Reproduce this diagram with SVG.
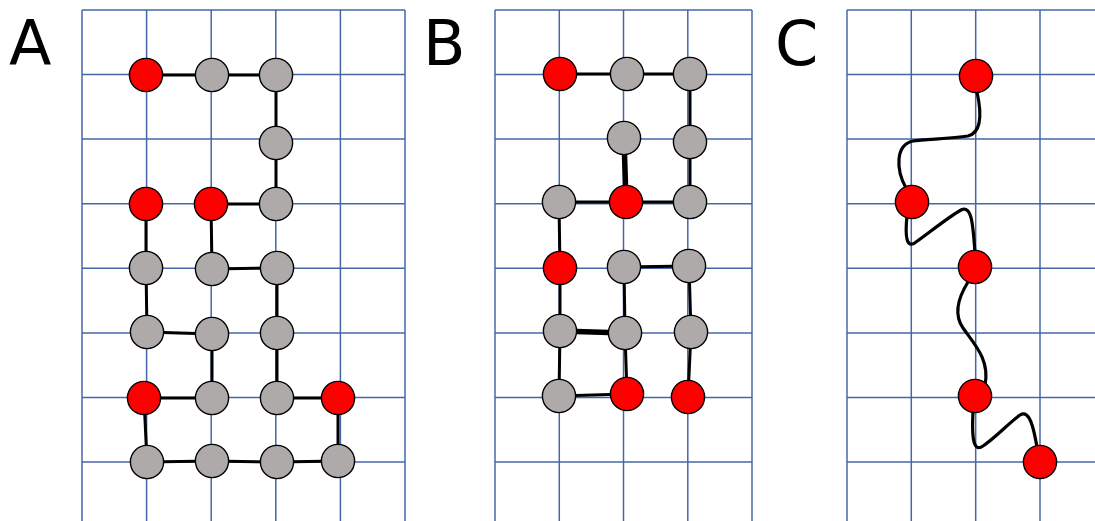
<svg xmlns="http://www.w3.org/2000/svg" width="1095" height="521" viewBox="0 0 1095 521">
<style>
.grid line{stroke:#4666AA;stroke-width:1.5}
.lbl{font-family:"DejaVu Sans",sans-serif;font-size:62px;fill:#000}
.e{stroke:#000;stroke-width:3;fill:none;stroke-linecap:round}
.t{stroke-width:5.5}
.w{stroke:#000;stroke-width:3.2;fill:none;stroke-linecap:round}
.r{fill:#FF0000;stroke:#000;stroke-width:1.4}
.g{fill:#AEAAAA;stroke:#000;stroke-width:1.4}
circle{r:16.6px}
</style>
<rect width="1095" height="521" fill="#fff"/>
<g id="grid-A" class="grid">
<line x1="82" y1="10" x2="82" y2="521"/><line x1="146.6" y1="10" x2="146.6" y2="521"/><line x1="211.2" y1="10" x2="211.2" y2="521"/><line x1="275.8" y1="10" x2="275.8" y2="521"/><line x1="340.4" y1="10" x2="340.4" y2="521"/><line x1="405" y1="10" x2="405" y2="521"/>
<line x1="82" y1="10" x2="405" y2="10"/><line x1="82" y1="74.6" x2="405" y2="74.6"/><line x1="82" y1="139.1" x2="405" y2="139.1"/><line x1="82" y1="203.7" x2="405" y2="203.7"/><line x1="82" y1="268.3" x2="405" y2="268.3"/><line x1="82" y1="332.9" x2="405" y2="332.9"/><line x1="82" y1="397.4" x2="405" y2="397.4"/><line x1="82" y1="462" x2="405" y2="462"/>
</g>
<g id="grid-B" class="grid">
<line x1="495" y1="10" x2="495" y2="521"/><line x1="559.3" y1="10" x2="559.3" y2="521"/><line x1="623.5" y1="10" x2="623.5" y2="521"/><line x1="687.8" y1="10" x2="687.8" y2="521"/><line x1="752" y1="10" x2="752" y2="521"/>
<line x1="495" y1="10" x2="752" y2="10"/><line x1="495" y1="74.6" x2="752" y2="74.6"/><line x1="495" y1="139.1" x2="752" y2="139.1"/><line x1="495" y1="203.7" x2="752" y2="203.7"/><line x1="495" y1="268.3" x2="752" y2="268.3"/><line x1="495" y1="332.9" x2="752" y2="332.9"/><line x1="495" y1="397.4" x2="752" y2="397.4"/><line x1="495" y1="462" x2="752" y2="462"/>
</g>
<g id="grid-C" class="grid">
<line x1="847" y1="10" x2="847" y2="521"/><line x1="911.3" y1="10" x2="911.3" y2="521"/><line x1="975.7" y1="10" x2="975.7" y2="521"/><line x1="1040" y1="10" x2="1040" y2="521"/>
<line x1="847" y1="10" x2="1095" y2="10"/><line x1="847" y1="74.6" x2="1095" y2="74.6"/><line x1="847" y1="139.1" x2="1095" y2="139.1"/><line x1="847" y1="203.7" x2="1095" y2="203.7"/><line x1="847" y1="268.3" x2="1095" y2="268.3"/><line x1="847" y1="332.9" x2="1095" y2="332.9"/><line x1="847" y1="397.4" x2="1095" y2="397.4"/><line x1="847" y1="462" x2="1095" y2="462"/>
</g>
<g id="labels">
<text class="lbl" x="9" y="65">A</text>
<text class="lbl" x="423" y="65">B</text>
<text class="lbl" x="775" y="65">C</text>
</g>
<g id="connectors">
<polyline class="e" points="146,75 212,75 276,75 276,143 276,204 211,204 212,269 277,268 277,333 277,398 338,398 338,461 277,462 212,461 147,462 144,398 212,398 212,334 147,332 146,268 146,204"/>
<polyline class="e" points="560,74 627,74 690,74 690,142 690,202 626,202"/>
<line class="e t" x1="626" y1="202" x2="624" y2="138"/>
<polyline class="e" points="626,202 559,202 560,268 560,331 559,396 627,394"/>
<line class="e t" x1="560" y1="331" x2="625" y2="333"/>
<polyline class="e" points="627,394 625,333 624,267 689,266 691,332 688,397"/>
<path class="w" d="M977,92 C981,110 983,132 968,136 C950,139 925,139 913,141 C895,145 896,170 906,188"/>
<path class="w" d="M907,216 C905,235 906,250 916,242 C930,232 950,216 961,210 C972,205 973,225 975,253"/>
<path class="w" d="M968,282 C958,298 954,315 963,328 C975,345 990,360 985,385"/>
<path class="w" d="M973,412 C972,432 972,454 983,446 C995,438 1008,424 1020,415 C1030,409 1034,430 1037,447"/>
</g>
<g id="A1"><circle class="r" cx="146" cy="75" r="16.6"/></g>
<g id="A2"><circle class="g" cx="212" cy="75" r="16.6"/></g>
<g id="A3"><circle class="g" cx="276" cy="75" r="16.6"/></g>
<g id="A4"><circle class="g" cx="276" cy="143" r="16.6"/></g>
<g id="A5"><circle class="g" cx="276" cy="204" r="16.6"/></g>
<g id="A6"><circle class="r" cx="211" cy="204" r="16.6"/></g>
<g id="A7"><circle class="r" cx="146" cy="204" r="16.6"/></g>
<g id="A8"><circle class="g" cx="146" cy="268" r="16.6"/></g>
<g id="A9"><circle class="g" cx="212" cy="269" r="16.6"/></g>
<g id="A10"><circle class="g" cx="277" cy="268" r="16.6"/></g>
<g id="A11"><circle class="g" cx="147" cy="332" r="16.6"/></g>
<g id="A12"><circle class="g" cx="212" cy="334" r="16.6"/></g>
<g id="A13"><circle class="g" cx="277" cy="333" r="16.6"/></g>
<g id="A14"><circle class="r" cx="144" cy="398" r="16.6"/></g>
<g id="A15"><circle class="g" cx="212" cy="398" r="16.6"/></g>
<g id="A16"><circle class="g" cx="277" cy="398" r="16.6"/></g>
<g id="A17"><circle class="r" cx="338" cy="398" r="16.6"/></g>
<g id="A18"><circle class="g" cx="147" cy="462" r="16.6"/></g>
<g id="A19"><circle class="g" cx="212" cy="461" r="16.6"/></g>
<g id="A20"><circle class="g" cx="277" cy="462" r="16.6"/></g>
<g id="A21"><circle class="g" cx="338" cy="461" r="16.6"/></g>
<g id="B1"><circle class="r" cx="560" cy="74" r="16.6"/></g>
<g id="B2"><circle class="g" cx="627" cy="74" r="16.6"/></g>
<g id="B3"><circle class="g" cx="690" cy="74" r="16.6"/></g>
<g id="B4"><circle class="g" cx="624" cy="138" r="16.6"/></g>
<g id="B5"><circle class="g" cx="690" cy="142" r="16.6"/></g>
<g id="B6"><circle class="g" cx="559" cy="202" r="16.6"/></g>
<g id="B7"><circle class="r" cx="626" cy="202" r="16.6"/></g>
<g id="B8"><circle class="g" cx="690" cy="202" r="16.6"/></g>
<g id="B9"><circle class="r" cx="560" cy="268" r="16.6"/></g>
<g id="B10"><circle class="g" cx="624" cy="267" r="16.6"/></g>
<g id="B11"><circle class="g" cx="689" cy="266" r="16.6"/></g>
<g id="B12"><circle class="g" cx="560" cy="331" r="16.6"/></g>
<g id="B13"><circle class="g" cx="625" cy="333" r="16.6"/></g>
<g id="B14"><circle class="g" cx="691" cy="332" r="16.6"/></g>
<g id="B15"><circle class="g" cx="559" cy="396" r="16.6"/></g>
<g id="B16"><circle class="r" cx="627" cy="394" r="16.6"/></g>
<g id="B17"><circle class="r" cx="688" cy="397" r="16.6"/></g>
<g id="C1"><circle class="r" cx="976" cy="76" r="16.6"/></g>
<g id="C2"><circle class="r" cx="912" cy="202" r="16.6"/></g>
<g id="C3"><circle class="r" cx="975" cy="267" r="16.6"/></g>
<g id="C4"><circle class="r" cx="975" cy="396" r="16.6"/></g>
<g id="C5"><circle class="r" cx="1040" cy="462" r="16.6"/></g>
</svg>
